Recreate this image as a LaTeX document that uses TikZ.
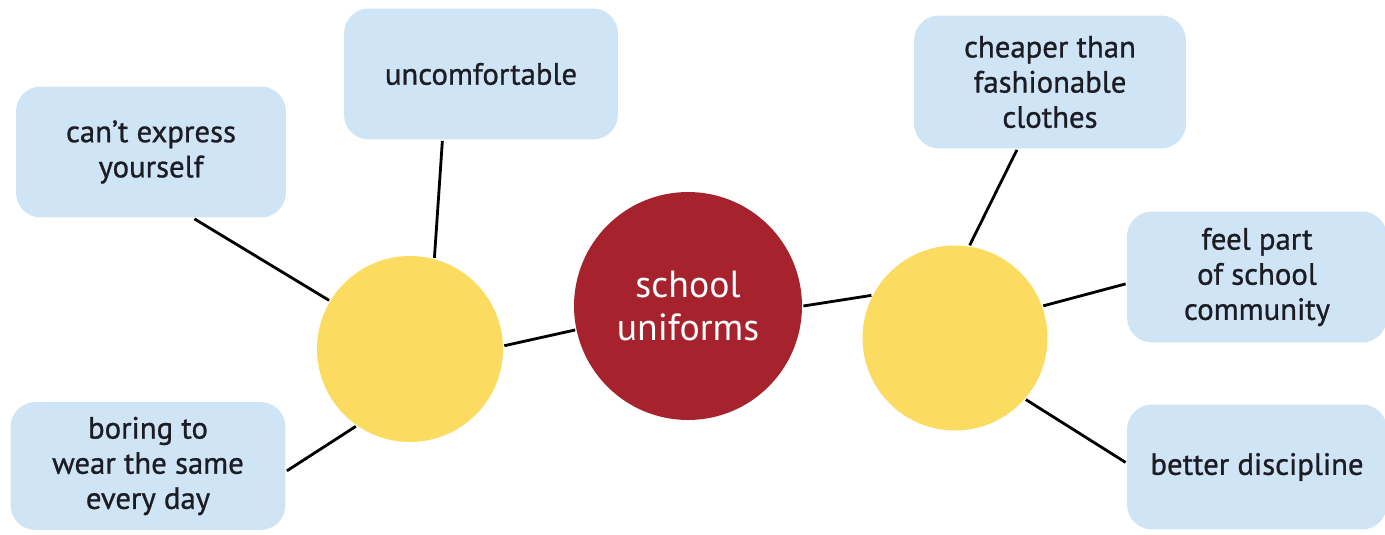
\documentclass[tikz,border=0pt]{standalone}
\usepackage{fontspec}
\setmainfont{PT Sans}
\newfontfamily\heavysans{PT Sans}[FakeBold=0.9]
\definecolor{boxblue}{RGB}{207,228,245}
\definecolor{sunny}{RGB}{251,220,96}
\definecolor{wine}{RGB}{166,35,46}
\definecolor{ink}{RGB}{28,28,36}

\begin{document}
\begin{tikzpicture}[x=0.02cm, y=0.02cm, line width=1.6pt,
    idea/.style={fill=boxblue, rounded corners=0.5cm, align=center, text=ink,
      font=\heavysans\fontsize{17.5}{20}\selectfont, inner sep=0pt},
    spoke/.style={circle, fill=sunny, inner sep=0pt}]
    \useasboundingbox (0,0) rectangle (1385,534);

    \node [circle, fill=wine, minimum size=4.56cm, text=white, align=center,
      font=\fontsize{21.5}{25}\selectfont] (hub) at (688,228) {school\\uniforms};
    \node [spoke, minimum size=3.72cm] (lhub) at (410,185) {};
    \node [spoke, minimum size=3.7cm] (rhub) at (955,196) {};

    \node [idea, minimum width=5.4cm, minimum height=2.62cm] (cant) at (151,382) {can’t express\\yourself};
    \node [idea, minimum width=5.48cm, minimum height=2.62cm] (uncomf) at (481,460) {uncomfortable};
    \node [idea, minimum width=5.5cm, minimum height=2.56cm] (boring) at (148,68) {boring to\\wear the same\\every day};
    \node [idea, minimum width=5.44cm, minimum height=2.66cm] (cheaper) at (1050,452) {cheaper than\\fashionable\\clothes};
    \node [idea, minimum width=5.2cm, minimum height=2.62cm] (feel) at (1257,257) {feel part\\of school\\community};
    \node [idea, minimum width=5.2cm, minimum height=2.5cm] (better) at (1257,67) {better discipline};

    \draw (lhub.2) -- (hub.192);
    \draw (hub.0) -- (rhub.153);
    \draw (lhub.149) -- (cant.-57);
    \draw (lhub.75) -- (uncomf.-120);
    \draw (lhub.-125) -- (boring.-2);
    \draw (rhub.81) -- (cheaper.-116);
    \draw (rhub.20) -- (feel.183);
    \draw (rhub.-41) -- (better.178);
\end{tikzpicture}
\end{document}
